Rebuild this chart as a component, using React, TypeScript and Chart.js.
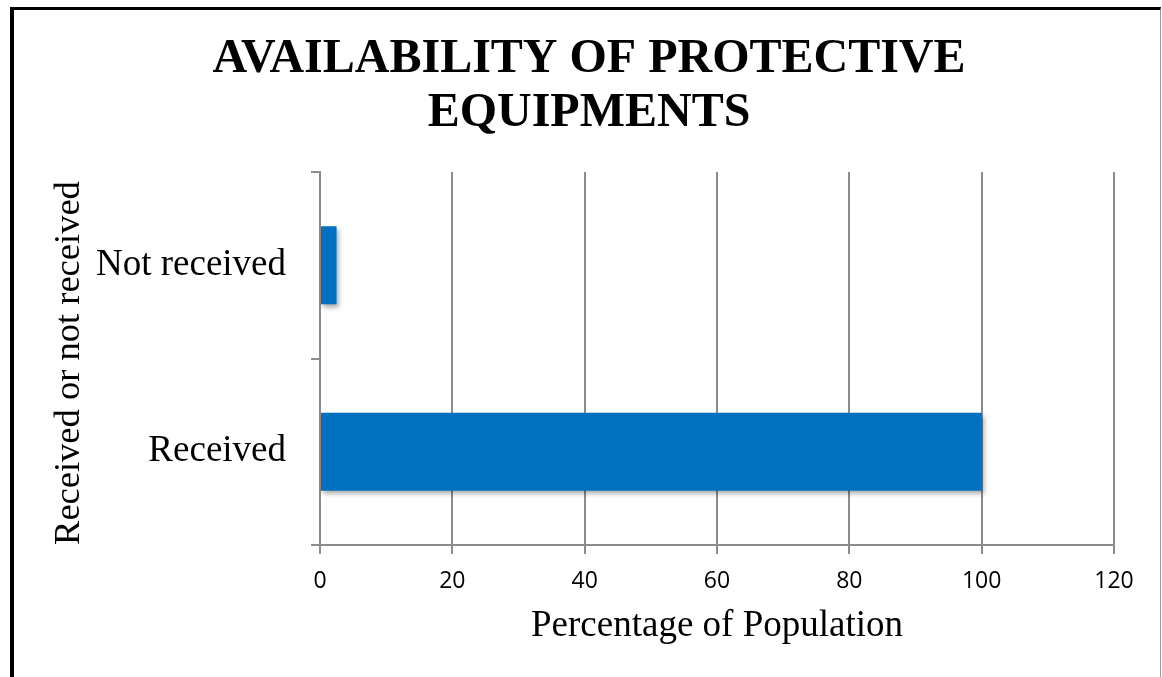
import React, { useEffect, useRef } from "react";
import { Chart, registerables } from "chart.js";

Chart.register(...registerables);

const categories: string[] = ["Not received", "Received"];
const percentages: number[] = [2.5, 100];
const xTicks: number[] = [0, 20, 40, 60, 80, 100, 120];
const titleLines: string[] = ["AVAILABILITY OF PROTECTIVE", "EQUIPMENTS"];
const xTitle = "Percentage of Population";
const yTitle = "Received or not received ";

const BAR_BLUE = "#0070C0";
const AXIS_GREY = "#8c8c8c";
const SERIF = "'Liberation Serif', 'Times New Roman', serif";

// soft drop shadow under the bars
const barShadow = {
  id: "barShadow",
  beforeDatasetsDraw(chart: any) {
    const ctx = chart.ctx;
    ctx.save();
    ctx.shadowColor = "rgba(0,0,0,0.35)";
    ctx.shadowBlur = 5;
    ctx.shadowOffsetX = 2;
    ctx.shadowOffsetY = 3;
  },
  afterDatasetsDraw(chart: any) {
    chart.ctx.restore();
  },
};

const whiteBackground = {
  id: "whiteBackground",
  beforeDraw(chart: any) {
    const ctx = chart.ctx;
    ctx.save();
    ctx.fillStyle = "#ffffff";
    ctx.fillRect(0, 0, chart.width, chart.height);
    ctx.restore();
  },
};

export default function App() {
  const canvasRef = useRef<HTMLCanvasElement | null>(null);

  useEffect(() => {
    if (!canvasRef.current) return;
    const chart = new Chart(canvasRef.current, {
      type: "bar",
      data: {
        labels: categories,
        datasets: [
          {
            data: percentages,
            backgroundColor: BAR_BLUE,
            borderWidth: 0,
            categoryPercentage: 1,
            barPercentage: 0.418,
          },
        ],
      },
      plugins: [whiteBackground, barShadow],
      options: {
        indexAxis: "y",
        animation: false,
        responsive: true,
        maintainAspectRatio: false,
        layout: { padding: { left: 50, right: 46, top: 0, bottom: 0 } },
        plugins: {
          legend: { display: false },
          tooltip: { enabled: false },
          title: {
            display: true,
            text: titleLines,
            color: "#000000",
            font: { family: SERIF, size: 48, weight: "bold", lineHeight: 1.125 },
            padding: { top: 23, bottom: 31 },
          },
        },
        scales: {
          x: {
            type: "linear",
            min: 0,
            max: 120,
            afterBuildTicks(scale: any) {
              scale.ticks = xTicks.map((v) => ({ value: v }));
            },
            afterFit(scale: any) {
              scale.height = 132;
            },
            grid: {
              color: AXIS_GREY,
              lineWidth: 2,
              drawTicks: true,
              tickLength: 9,
            },
            border: { color: AXIS_GREY, width: 2 },
            ticks: {
              color: "#000000",
              font: { family: "'Open Sans', sans-serif", size: 23 },
              padding: 14,
              maxRotation: 0,
            },
            title: {
              display: true,
              text: xTitle,
              color: "#000000",
              font: { family: SERIF, size: 37 },
              padding: { top: 0, bottom: 29 },
            },
          },
          y: {
            type: "category",
            afterFit(scale: any) {
              scale.width = 256;
            },
            grid: {
              offset: true,
              color: AXIS_GREY,
              lineWidth: 2,
              drawOnChartArea: false,
              drawTicks: true,
              tickLength: 9,
            },
            border: { color: AXIS_GREY, width: 2 },
            ticks: {
              color: "#000000",
              font: { family: SERIF, size: 37 },
              padding: 25,
            },
            title: {
              display: true,
              text: yTitle,
              color: "#000000",
              font: { family: SERIF, size: 36.5, lineHeight: "11px" },
              padding: { top: 0, bottom: 0 },
            },
          },
        },
      },
    });
    return () => chart.destroy();
  }, []);

  return (
    <div
      style={{
        position: "absolute",
        left: 10,
        top: 7,
        width: 1151,
        height: 700,
        boxSizing: "border-box",
        borderLeft: "4px solid #000",
        borderTop: "3px solid #000",
        borderRight: "1px solid #9a9a9a",
        background: "#fff",
      }}
    >
      <div style={{ position: "relative", width: 1146, height: 667 }}>
        <canvas ref={canvasRef} />
      </div>
    </div>
  );
}
